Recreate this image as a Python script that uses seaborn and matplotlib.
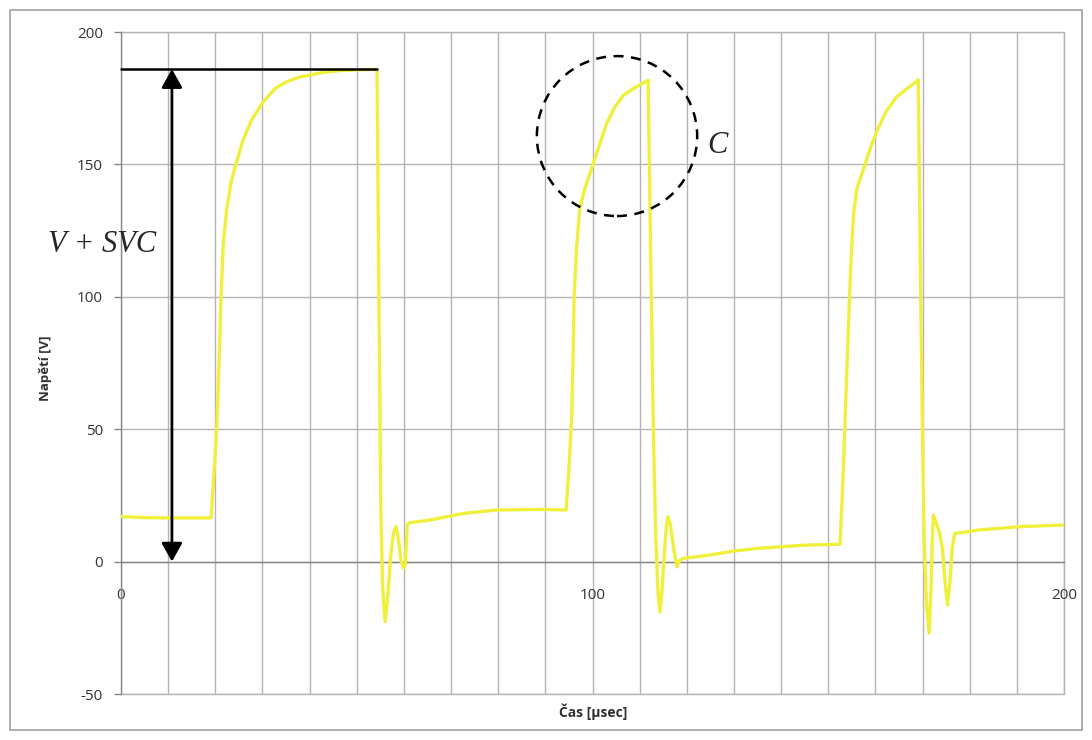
import matplotlib
matplotlib.use("Agg")
import matplotlib.pyplot as plt
import seaborn as sns
import pandas as pd
from matplotlib.patches import Ellipse, Rectangle

# ---- data ----
time_us = [0, 5, 10, 15, 19.1, 19.6, 20.3, 20.8, 21.2, 21.7, 22.4, 23.3, 24.3, 25.9, 27.7, 30.2, 32.7,
           35.1, 37.5, 40.2, 43.0, 46.4, 50.0, 54.0,
           54.3, 54.7, 55.1, 55.5, 56.0, 56.5, 57.2, 57.8, 58.3, 58.8, 59.4, 60.0, 60.3, 60.7, 61.2,
           65.5, 72.6, 79.7, 88.9, 94.4,
           95.0, 95.6, 95.9, 96.1, 96.6, 97.3, 98.4, 100.2, 101.5, 103.0, 104.7, 106.5, 109.0, 111.8,
           112.3, 112.9, 113.4, 113.9, 114.3, 114.7, 115.3, 115.7, 116.0, 116.5, 117.3, 117.9, 118.3, 119.2,
           124.9, 130, 135, 140, 145, 152.5,
           153.1, 153.6, 154.1, 154.6, 155.0, 155.4, 156.1, 157.8, 159.0, 160.3, 162.3, 164.5, 167.0, 169.1,
           169.6, 170.3, 170.8, 171.4, 171.8, 172.0, 172.3, 172.8, 173.5, 174.2, 174.8, 175.3, 175.8,
           176.3, 176.8, 177.2, 182.2, 190.7, 200]
voltage_v = [17.0, 16.6, 16.5, 16.5, 16.5, 30, 50, 75, 100, 120.2, 132.8, 142.9, 149.8, 159.2, 166.8, 173.7, 178.7,
             181.2, 182.8, 183.8, 184.8, 185.4, 185.7, 185.9,
             185.5, 100, 20, -10, -22.7, -15, 2, 11, 13.2, 9, 0, -2.5, -1, 14, 14.7,
             15.7, 18.2, 19.5, 19.7, 19.5,
             35, 55, 80, 100, 117.7, 133.4, 141.0, 150.5, 157.5, 165.5, 171.5, 176.0, 179.0, 181.8,
             120, 50, 10, -12, -19, -12, 5, 14, 17, 14, 4, -2, 0, 1.2,
             2.5, 4, 5, 5.6, 6.2, 6.6,
             30, 55, 80, 104, 120, 132, 141, 150, 156.5, 162.5, 170, 175.5, 179.0, 181.9,
             100, 10, -15, -27, -10, 5, 17.6, 15, 11.5, 5, -8, -16.4, -8,
             5, 10.5, 10.7, 12, 13.2, 13.8]

x_ticks = [0, 100, 200]
y_ticks = [-50, 0, 50, 100, 150, 200]
x_label = "Čas [µsec]"
y_label = "Napětí [V]"
level_v = 186
arrow_x = 10.8
circle_center = (105.2, 160.7)

df = pd.DataFrame({"t": time_us, "v": voltage_v})

sns.set_theme(style="white")
plt.rcParams['font.family'] = ['Open Sans', 'DejaVu Sans']
plt.rcParams['axes.unicode_minus'] = False

fig = plt.figure(figsize=(10.92, 7.40), dpi=100)
ax = fig.add_axes([121/1092, 1 - 694/740, (1064-121)/1092, (694-32)/740])

sns.lineplot(data=df, x="t", y="v", ax=ax, color="#f0f03c", lw=2.4,
             estimator=None, sort=False, zorder=3)

ax.set_xlim(0, 200)
ax.set_ylim(-50, 200)
ax.set_xticks(x_ticks)
ax.set_xticks(list(range(0, 201, 10)), minor=True)
ax.set_yticks(y_ticks)
ax.grid(True, which="both", color="#b4b4b4", lw=1.0, zorder=0)
ax.set_axisbelow(True)
grid_kw = dict(color="#b4b4b4", lw=1.0, zorder=0, clip_on=False)
ax.axhline(-50, **grid_kw)
ax.axhline(200, **grid_kw)
ax.axvline(200, **grid_kw)

for s in ["top", "right"]:
    ax.spines[s].set_visible(False)
ax.spines["bottom"].set_position(("data", 0))
ax.spines["bottom"].set_color("#868686")
ax.spines["left"].set_color("#868686")
ax.spines["bottom"].set_linewidth(1.0)
ax.spines["left"].set_linewidth(1.0)

ax.tick_params(axis="x", which="both", length=0, pad=19, labelsize=11, labelcolor="#333333")
ax.tick_params(axis="y", which="major", length=5, width=1, color="#868686", pad=8,
               labelsize=11, labelcolor="#333333", left=True)

ax.set_xlabel("")
ax.set_ylabel("")
fig.text(593/1092, 1 - 712/740, x_label, ha="center", va="center", fontsize=10, fontweight="bold",
         color="#303030")
fig.text(46/1092, 1 - 368/740, y_label, ha="center", va="center", rotation=90, fontsize=9.5,
         fontweight="bold", color="#303030")

# annotations
ax.plot([0, 54.2], [level_v, level_v], color="black", lw=1.8, zorder=4, clip_on=False)
ax.annotate("", xy=(arrow_x, level_v), xytext=(arrow_x, 0),
            arrowprops=dict(arrowstyle="<|-|>,head_length=0.75,head_width=0.42", color="black",
                            lw=2, shrinkA=0, shrinkB=0, mutation_scale=15), zorder=5)
ax.add_patch(Ellipse(circle_center, width=34, height=60.4, fill=False, ec="black",
                     lw=1.8, ls=(0, (4, 3)), zorder=5))
ax.text(-4.0, 119.6, "V + SVC", fontsize=22, family="Liberation Serif", style="italic",
        ha="center", va="center", clip_on=False)
ax.text(126.6, 157.3, "C", fontsize=22, family="Liberation Serif", style="italic",
        ha="center", va="center")

fig.add_artist(Rectangle((10/1092, 10/740), 1 - 20/1092, 1 - 20/740, transform=fig.transFigure,
                         fill=False, ec="#a0a0a0", lw=1.2))

fig.savefig("out.png", dpi=100)
